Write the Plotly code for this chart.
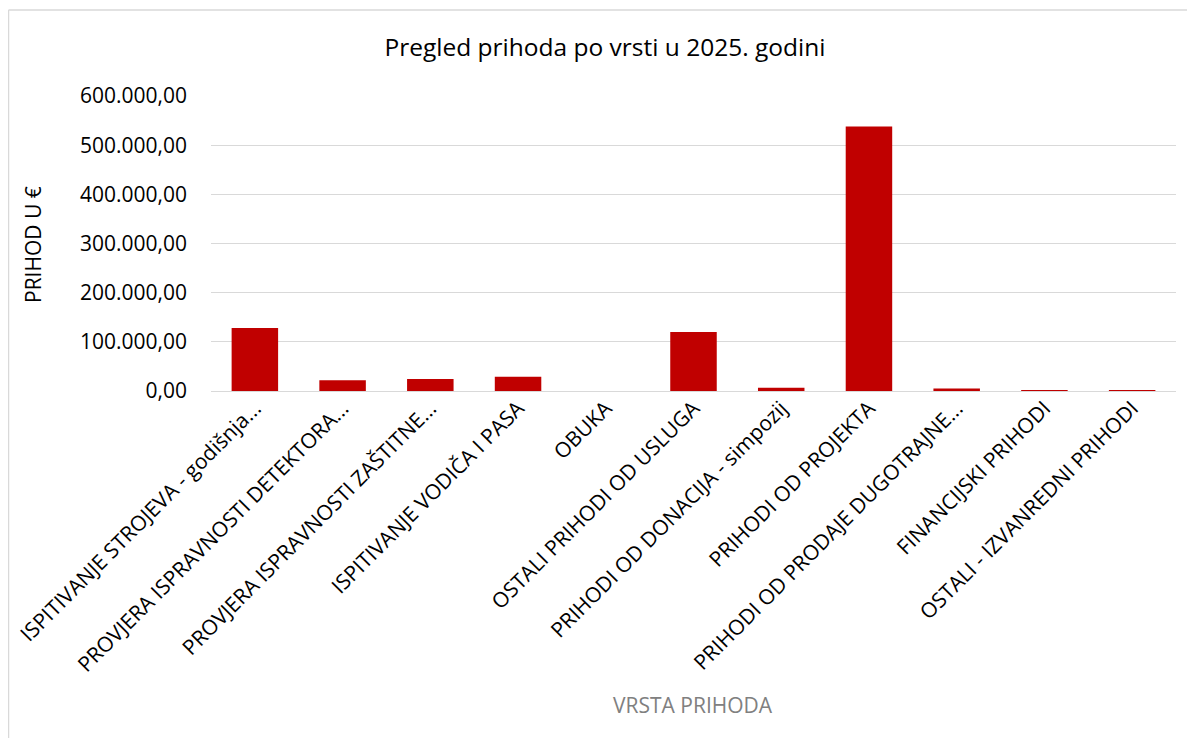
import plotly.graph_objects as go

categories = [
    "ISPITIVANJE STROJEVA - godišnja...",
    "PROVJERA ISPRAVNOSTI DETEKTORA...",
    "PROVJERA ISPRAVNOSTI ZAŠTITNE...",
    "ISPITIVANJE VODIČA I PASA",
    "OBUKA",
    "OSTALI PRIHODI OD USLUGA",
    "PRIHODI OD DONACIJA - simpozij",
    "PRIHODI OD PROJEKTA",
    "PRIHODI OD PRODAJE DUGOTRAJNE...",
    "FINANCIJSKI PRIHODI",
    "OSTALI - IZVANREDNI PRIHODI",
]
values = [128000, 22000, 24500, 29000, 0, 120000, 6500, 538000, 5000, 900, 900]
y_ticks = [0, 100000, 200000, 300000, 400000, 500000, 600000]

# page has an 8px body margin; work in absolute screen pixels
OX, OY = 8, 8
W, H = 1195 - 2 * OX, 746 - 2 * OY
PL, PR, PT, PB = 211, 1176, 96, 391  # plot area in screen pixels
L, R, T, B = PL - OX, W - (PR - OX), PT - OY, H - (PB - OY)
pw, ph = W - L - R, H - T - B

FONT = "Open Sans, sans-serif"

fig = go.Figure(go.Bar(
    x=categories, y=values,
    marker=dict(color="#C00000", line=dict(width=0)),
))

def px_x(sx):
    return (sx - OX - L) / pw

def px_y(sy):
    return (H - B - (sy - OY)) / ph

fig.update_layout(
    width=W, height=H,
    margin=dict(l=L, r=R, t=T, b=B),
    paper_bgcolor="white", plot_bgcolor="white",
    separators=",.",
    bargap=0.47,
    showlegend=False,
    font=dict(family=FONT, color="#000000", size=21),
    title=dict(text="Pregled prihoda po vrsti u 2025. godini",
               x=(605 - OX) / W, xref="container", xanchor="center",
               y=1 - (47 - OY) / H, yref="container", yanchor="middle",
               font=dict(family=FONT, size=24.5, color="#000000")),
    xaxis=dict(
        tickangle=-45, showgrid=False, showline=False, ticks="",
        tickfont=dict(family=FONT, size=21, color="#000000"),
        automargin=False,
    ),
    yaxis=dict(
        range=[0, 600000], tickvals=y_ticks, tickformat=",.2f",
        showgrid=True, gridcolor="#D9D9D9", gridwidth=1.3,
        zeroline=True, zerolinecolor="#D9D9D9", zerolinewidth=1.3,
        showline=False, ticks="", ticklabelstandoff=23,
        tickfont=dict(family=FONT, size=21, color="#000000"),
        automargin=False,
    ),
    shapes=[
        dict(type="line", xref="paper", yref="paper",
             x0=px_x(8.5), x1=px_x(8.5), y0=px_y(10), y1=px_y(760),
             line=dict(color="#D9D9D9", width=1.5)),
        dict(type="line", xref="paper", yref="paper",
             x0=px_x(8.5), x1=px_x(1210), y0=px_y(10), y1=px_y(10),
             line=dict(color="#D9D9D9", width=1.5)),
    ],
    annotations=[
        dict(text="PRIHOD U €", xref="paper", yref="paper",
             x=px_x(33), y=px_y(245), xanchor="center", yanchor="middle",
             textangle=-90, showarrow=False,
             font=dict(family=FONT, size=21, color="#000000")),
        dict(text="VRSTA PRIHODA", xref="paper", yref="paper",
             x=px_x(693), y=px_y(705), xanchor="center", yanchor="middle",
             showarrow=False,
             font=dict(family=FONT, size=21, color="#808080")),
    ],
)

fig.write_html("out.html")
